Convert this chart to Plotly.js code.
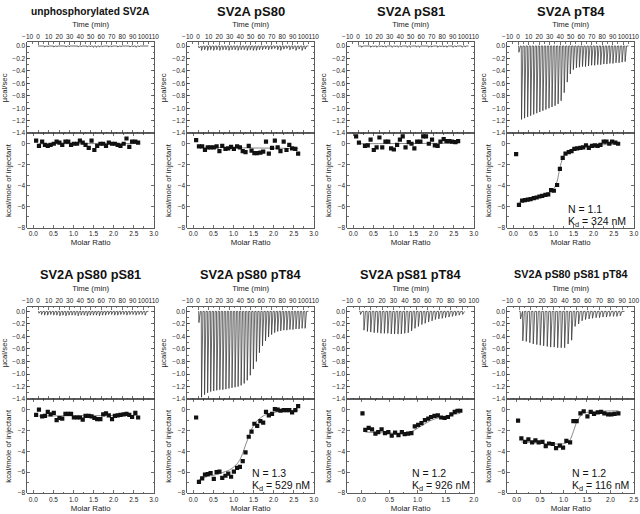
<!DOCTYPE html>
<html>
<head>
<meta charset="utf-8">
<script src="https://cdn.plot.ly/plotly-3.0.1.min.js"></script>
<style>html,body{margin:0;padding:0;background:#fff;}#chart{width:640px;height:514px;}</style>
</head>
<body>
<div id="chart"></div>
<script>
// ---------- data ----------
const panelTitles = ["unphosphorylated SV2A", "SV2A pS80", "SV2A pS81", "SV2A pT84",
                     "SV2A pS80 pS81", "SV2A pS80 pT84", "SV2A pS81 pT84", "SV2A pS80 pS81 pT84"];

// injection times (min)
const timeA = [0.5, 3.0, 5.9, 8.8, 11.7, 14.6, 17.5, 20.4, 23.3, 26.2, 29.1, 32.0, 34.9, 37.8, 40.7, 43.6, 46.5, 49.4,
               52.3, 55.2, 58.1, 61.0, 63.9, 66.8, 69.7, 72.6, 75.5, 78.4, 81.3, 84.2, 87.1, 90.0, 92.9, 95.8, 98.7, 101.6];
const time7 = [1.0, 4.0, 7.0, 9.9, 12.9, 15.9, 18.8, 21.8, 24.8, 27.8, 30.7, 33.7, 36.6, 39.6, 42.6, 45.6, 48.5, 51.5,
               54.5, 57.4, 60.4, 63.4, 66.3, 69.3, 72.3, 75.2, 78.2, 81.2, 84.1, 87.1, 90.1];
const time8 = [1.0, 3.0, 6.0, 9.1, 12.1, 15.2, 18.2, 21.2, 24.3, 27.3, 30.4, 33.4, 36.5, 39.5, 42.5, 45.6, 48.6, 51.7,
               54.7, 57.7, 60.8, 63.8, 66.9, 69.9, 72.9, 76.0, 79.0, 82.1, 85.1, 88.1];

// molar ratios
const ratioA = [0.07, 0.14, 0.22, 0.29, 0.36, 0.43, 0.51, 0.58, 0.65, 0.72, 0.80, 0.87, 0.94, 1.01, 1.09, 1.16, 1.23, 1.30,
                1.38, 1.45, 1.52, 1.59, 1.67, 1.74, 1.81, 1.88, 1.96, 2.03, 2.10, 2.17, 2.25, 2.32, 2.39, 2.46, 2.54, 2.61];
const ratio7 = [0.02, 0.07, 0.13, 0.19, 0.25, 0.30, 0.36, 0.42, 0.48, 0.54, 0.60, 0.66, 0.72, 0.77, 0.83, 0.89, 0.95, 1.01,
                1.07, 1.13, 1.19, 1.24, 1.30, 1.36, 1.42, 1.48, 1.54, 1.60, 1.66, 1.71, 1.76];
const ratio8 = [0.03, 0.10, 0.18, 0.25, 0.33, 0.40, 0.47, 0.55, 0.62, 0.69, 0.77, 0.84, 0.92, 0.99, 1.06, 1.14, 1.21, 1.28,
                1.36, 1.43, 1.51, 1.58, 1.65, 1.73, 1.80, 1.87, 1.95, 2.02, 2.09, 2.17];

// raw thermogram peak heights (µcal/sec)
const peaksUnphos = [-0.01, -0.01, -0.015, -0.01, -0.01, -0.015, -0.01, -0.01, -0.01, -0.015, -0.01, -0.01, -0.01, -0.015, -0.01, -0.01, -0.015, -0.01,
                     -0.02, -0.02, -0.015, -0.01, -0.01, -0.015, -0.01, -0.01, -0.015, -0.01, -0.01, -0.01, -0.015, -0.01, -0.02, -0.01, -0.01, -0.01];
const peaksPS80 = [-0.03, -0.07, -0.06, -0.07, -0.06, -0.07, -0.06, -0.07, -0.06, -0.06, -0.07, -0.06, -0.06, -0.07, -0.06, -0.06, -0.07, -0.06,
                   -0.07, -0.07, -0.06, -0.06, -0.05, -0.06, -0.05, -0.04, -0.06, -0.07, -0.05, -0.04, -0.06, -0.05, -0.07, -0.05, -0.07, -0.05];
const peaksPS81 = [-0.01, -0.02, 0.0, -0.01, -0.02, -0.01, -0.02, -0.01, -0.015, -0.02, -0.01, -0.02, -0.01, -0.02, -0.015, -0.01, -0.02, -0.02,
                   -0.01, -0.015, -0.02, -0.01, -0.01, -0.02, -0.015, -0.01, -0.02, -0.01, -0.015, -0.02, -0.01, -0.02, -0.015, -0.01, -0.02, -0.015];
const peaksPT84 = [-0.1, -1.18, -1.16, -1.14, -1.12, -1.1, -1.08, -1.06, -1.04, -1.02, -1.0, -0.98, -0.96, -0.93, -0.88, -0.75, -0.58, -0.45,
                   -0.38, -0.35, -0.34, -0.33, -0.33, -0.32, -0.31, -0.31, -0.3, -0.3, -0.29, -0.29, -0.28, -0.28, -0.27, -0.27, -0.26, -0.25];
const peaksPS80PS81 = [-0.03, -0.05, -0.06, -0.06, -0.05, -0.06, -0.06, -0.07, -0.06, -0.07, -0.06, -0.06, -0.06, -0.07, -0.06, -0.06, -0.07, -0.06,
                       -0.06, -0.06, -0.07, -0.06, -0.06, -0.05, -0.05, -0.06, -0.06, -0.05, -0.05, -0.06, -0.05, -0.05, -0.06, -0.05, -0.05, -0.06];
const peaksPS80PT84 = [-0.18, -1.37, -1.33, -1.3, -1.28, -1.27, -1.26, -1.25, -1.25, -1.24, -1.23, -1.22, -1.21, -1.2, -1.18, -1.15, -1.1, -1.02,
                       -0.92, -0.8, -0.66, -0.55, -0.47, -0.41, -0.37, -0.34, -0.32, -0.31, -0.3, -0.3, -0.29, -0.29, -0.28, -0.28, -0.27, -0.27];
const peaksPS81PT84 = [-0.05, -0.3, -0.32, -0.33, -0.34, -0.34, -0.35, -0.35, -0.35, -0.36, -0.36, -0.36, -0.36, -0.35, -0.34, -0.31, -0.27, -0.24,
                       -0.21, -0.19, -0.17, -0.15, -0.13, -0.12, -0.11, -0.1, -0.09, -0.08, -0.07, -0.06, -0.05];
const peaksPS80PS81PT84 = [-0.12, -0.47, -0.48, -0.5, -0.52, -0.53, -0.54, -0.55, -0.56, -0.57, -0.57, -0.58, -0.58, -0.58, -0.52, -0.46, -0.24, -0.2,
                           -0.15, -0.13, -0.12, -0.11, -0.1, -0.1, -0.09, -0.09, -0.08, -0.08, -0.08, -0.07];

// integrated heats (kcal/mole of injectant)
const heatUnphos = [0.3, -0.2, 0.2, -0.1, -0.2, -0.1, 0.0, 0.2, 0.1, -0.1, 0.2, 0.2, -0.1, 0.0, 0.0, 0.3, 0.1, -0.1,
                    -0.4, 0.3, -0.6, -0.2, 0.0, 0.0, -0.2, 0.1, 0.0, 0.0, -0.1, -0.2, 0.0, 0.5, -0.3, 0.2, 0.2, 0.1];
const heatPS80 = [0.35, -0.25, -0.25, -0.6, -0.35, -0.35, -0.35, -0.25, -0.7, -0.2, -0.5, -0.45, -0.3, -0.5, -0.25, -0.35, -0.7, -0.8,
                  -0.2, -0.65, -0.9, -0.9, -0.85, -0.75, 0.2, -0.95, -0.4, 0.3, -0.35, -0.7, 0.2, -0.6, -0.1, -0.45, -0.5, -0.95];
const heatPS81 = [0.7, 0.1, 1.2, -0.2, -0.15, 0.4, -0.6, -0.35, 0.6, -0.35, 0.2, 0.2, -0.45, -0.55, -0.1, 0.4, 0.7, -0.35,
                  0.15, 0.0, -0.45, 0.2, 0.2, 0.7, 0.7, 0.0, 0.4, -0.15, -0.2, 0.2, 0.45, 0.25, 0.25, 0.2, 0.15, 0.25];
const heatPT84 = [-1.0, -5.85, -5.45, -5.4, -5.35, -5.3, -5.2, -5.15, -5.05, -5.0, -4.9, -4.85, -4.45, -4.5, -3.95, -2.4, -1.35, -0.95,
                  -0.8, -0.7, -0.5, -0.45, -0.4, -0.35, -0.15, -0.4, -0.2, -0.15, -0.2, -0.1, 0.2, 0.2, 0.0, 0.2, 0.1, 0.0];
const heatPS80PS81 = [-0.5, 0.0, -0.65, -0.6, -0.2, -0.45, -0.3, -1.0, -0.8, -0.85, -0.4, -0.4, -0.4, -0.75, -0.75, -0.75, -0.95, -0.6,
                      -0.6, -0.65, -0.8, -0.9, -0.9, -0.45, -0.35, -0.55, -0.9, -0.6, -0.55, -0.5, -0.45, -0.4, -0.5, -0.7, -0.3, -0.75];
const heatPS80PT84 = [-0.75, -6.95, -6.6, -6.25, -6.2, -6.1, -6.65, -6.0, -5.95, -6.55, -6.35, -6.15, -6.45, -5.95, -5.6, -5.5, -4.95, -4.1,
                      -2.6, -2.1, -1.35, -1.55, -1.1, -1.25, -0.2, -0.55, -0.4, 0.05, 0.0, -0.1, -0.05, -0.05, -0.05, -0.25, -0.05, 0.35];
const heatPS81PT84 = [-0.35, -1.95, -1.75, -1.9, -2.3, -2.15, -1.9, -2.25, -2.15, -2.5, -2.2, -2.45, -2.15, -2.35, -2.3, -2.25, -1.6, -1.45,
                      -1.3, -1.0, -0.85, -0.7, -0.6, -0.55, -0.75, -0.8, -0.7, -0.45, -0.2, -0.1, -0.1];
const heatPS80PS81PT84 = [-1.05, -2.75, -3.1, -2.85, -3.15, -2.95, -3.15, -3.1, -3.5, -3.25, -3.3, -3.7, -3.45, -3.65, -3.0, -3.15, -1.1, -1.1,
                          -0.35, -0.15, -0.65, -0.2, -0.4, -0.25, -0.2, -0.35, -0.45, -0.45, -0.4, -0.35];

// fitted curves
const fitXUnphos = [0.14, 2.61], fitYUnphos = [0.0, 0.02];
const fitXPS80 = [0.14, 2.61], fitYPS80 = [-0.35, -0.45];
const fitXPS81 = [0.14, 2.61], fitYPS81 = [0.0, 0.05];
const fitXPS80PS81 = [0.14, 2.61], fitYPS80PS81 = [-0.6, -0.55];
const fitYPT84 = [-5.6, -5.5, -5.45, -5.38, -5.3, -5.22, -5.14, -5.05, -4.95, -4.85, -4.7, -4.5, -4.3, -3.6, -2.3, -1.35, -0.9, -0.68,
                  -0.54, -0.44, -0.36, -0.31, -0.27, -0.23, -0.2, -0.17, -0.15, -0.13, -0.11, -0.09, -0.08, -0.06, -0.05, -0.04, -0.03];
const fitYPS80PT84 = [-6.75, -6.6, -6.5, -6.4, -6.35, -6.3, -6.22, -6.15, -6.05, -5.95, -5.85, -5.7, -5.5, -5.2, -4.8, -4.2, -3.4, -2.6,
                      -1.9, -1.4, -1.05, -0.8, -0.6, -0.47, -0.37, -0.3, -0.24, -0.2, -0.16, -0.13, -0.11, -0.09, -0.07, -0.06, -0.05];
const fitYPS81PT84 = [-2.15, -2.17, -2.18, -2.2, -2.21, -2.22, -2.23, -2.24, -2.25, -2.25, -2.25, -2.24, -2.22, -2.18, -2.1, -1.95, -1.75, -1.55,
                      -1.35, -1.17, -1.02, -0.9, -0.8, -0.71, -0.63, -0.56, -0.5, -0.45, -0.4, -0.36];
const fitYPS80PS81PT84 = [-3.1, -3.13, -3.15, -3.18, -3.2, -3.22, -3.24, -3.26, -3.28, -3.29, -3.3, -3.3, -3.28, -3.2, -2.9, -2.1, -1.2, -0.6,
                          -0.35, -0.25, -0.2, -0.17, -0.15, -0.14, -0.13, -0.12, -0.12, -0.11, -0.11];

const fitLabelsN = ["N = 1.1", "N = 1.3", "N = 1.2", "N = 1.2"];
const fitLabelsKd = ["K<sub>d</sub> = 324 nM", "K<sub>d</sub> = 529 nM", "K<sub>d</sub> = 926 nM", "K<sub>d</sub> = 116 nM"];

const rawTicks = [0, -0.2, -0.4, -0.6, -0.8, -1.0, -1.2, -1.4];

// ---------- panels ----------
const panels = [
  {title: panelTitles[0], time: timeA, peaks: peaksUnphos, ratio: ratioA, heat: heatUnphos, fitX: fitXUnphos, fitY: fitYUnphos, tEnd: 105, tRange: [-10.3, 110.3], rRange: [-0.15, 3.005], tsize: 10.2},
  {title: panelTitles[1], time: timeA, peaks: peaksPS80, ratio: ratioA, heat: heatPS80, fitX: fitXPS80, fitY: fitYPS80, tEnd: 105, tRange: [-10.3, 110.3], rRange: [-0.15, 3.005], tsize: 13},
  {title: panelTitles[2], time: timeA, peaks: peaksPS81, ratio: ratioA, heat: heatPS81, fitX: fitXPS81, fitY: fitYPS81, tEnd: 105, tRange: [-10.3, 110.3], rRange: [-0.15, 3.005], tsize: 13},
  {title: panelTitles[3], time: timeA, peaks: peaksPT84, ratio: ratioA, heat: heatPT84, fitX: ratioA.slice(1), fitY: fitYPT84, tEnd: 105, tRange: [-10.3, 110.3], rRange: [-0.15, 3.005], ann: 0, tsize: 13},
  {title: panelTitles[4], time: timeA, peaks: peaksPS80PS81, ratio: ratioA, heat: heatPS80PS81, fitX: fitXPS80PS81, fitY: fitYPS80PS81, tEnd: 105, tRange: [-10.3, 110.3], rRange: [-0.15, 3.005], tsize: 12.8},
  {title: panelTitles[5], time: timeA, peaks: peaksPS80PT84, ratio: ratioA, heat: heatPS80PT84, fitX: ratioA.slice(1), fitY: fitYPS80PT84, tEnd: 105, tRange: [-10.3, 110.3], rRange: [-0.15, 3.005], ann: 1, tsize: 12.8},
  {title: panelTitles[6], time: time7, peaks: peaksPS81PT84, ratio: ratio7, heat: heatPS81PT84, fitX: ratio7.slice(1), fitY: fitYPS81PT84, tEnd: 92, tRange: [-10.3, 100.3], rRange: [-0.25, 2.003], ann: 2, tsize: 12.8},
  {title: panelTitles[7], time: time8, peaks: peaksPS80PS81PT84, ratio: ratio8, heat: heatPS80PS81PT84, fitX: ratio8.slice(1), fitY: fitYPS80PS81PT84, tEnd: 92, tRange: [-10.3, 100.3], rRange: [-0.2, 2.503], ann: 3, tsize: 10.8}
];

const W = 640, H = 514;
const colLeft = [27.3, 187.3, 347.3, 507.3], colW = 126.7;
const rows = [ {rawTop: 42.3, mid: 133.3, bot: 227.7, titleY: 11.5, nY: 208.5, kY: 221.5, nX: 566},
               {rawTop: 306.7, mid: 399.3, bot: 493.3, titleY: 274, nY: 472.5, kY: 485.5, nX: 570} ];
const fx = p => p / W, fy = p => 1 - p / H;

const axisColor = '#333';
const tickFont = {family: 'Liberation Sans, Arial, sans-serif', size: 6.5, color: '#222'};
const titleFont = {family: 'Liberation Sans, Arial, sans-serif', size: 7.8, color: '#222'};

const data = [];
const layout = {
  width: W, height: H, margin: {l: 0, r: 0, t: 0, b: 0},
  paper_bgcolor: '#fff', plot_bgcolor: '#fff', showlegend: false,
  font: {family: 'Liberation Sans, Arial, sans-serif', color: '#222'},
  annotations: []
};

function baseAxis() {
  return {showline: true, linecolor: axisColor, linewidth: 0.8, mirror: 'allticks', ticks: 'inside', ticklen: 3,
          tickcolor: axisColor, tickwidth: 0.7, showgrid: false, zeroline: false, tickfont: tickFont, tickangle: 0,
          fixedrange: true};
}

panels.forEach((p, i) => {
  const col = i % 4, row = rows[Math.floor(i / 4)];
  const kr = 2 * i + 1, kh = 2 * i + 2;
  const xd = [fx(colLeft[col]), fx(colLeft[col] + colW)];

  // raw thermogram path built from the injection list
  const rx = [0], ry = [0];
  p.time.forEach((t, j) => { rx.push(t, t + 0.25, t + 1.6); ry.push(0, p.peaks[j], 0); });
  rx.push(p.tEnd); ry.push(0);
  data.push({type: 'scatter', mode: 'lines', x: rx, y: ry, xaxis: 'x' + kr, yaxis: 'y' + kr,
             line: {color: '#2a2a2a', width: 0.7}, hoverinfo: 'skip'});

  // fit and integrated heats
  data.push({type: 'scatter', mode: 'lines', x: p.fitX, y: p.fitY, xaxis: 'x' + kh, yaxis: 'y' + kh,
             line: {color: '#555', width: 0.7, shape: 'spline', smoothing: 0.6}, hoverinfo: 'skip'});
  data.push({type: 'scatter', mode: 'markers', x: p.ratio, y: p.heat, xaxis: 'x' + kh, yaxis: 'y' + kh,
             marker: {symbol: 'square', size: 4.2, color: '#111'}, hoverinfo: 'skip'});

  const sr = kr === 1 ? '' : kr;
  layout['xaxis' + sr] = Object.assign(baseAxis(), {
    domain: xd, anchor: 'y' + kr, side: 'top', range: p.tRange, tick0: 0, dtick: 10,
    minor: {dtick: 5, ticks: 'inside', ticklen: 1.5, tickcolor: axisColor},
    title: {text: 'Time (min)', font: titleFont, standoff: 4}
  });
  layout['yaxis' + sr] = Object.assign(baseAxis(), {
    domain: [fy(row.mid), fy(row.rawTop)], anchor: 'x' + kr, range: [-1.403, row === rows[0] ? 0.06 : 0.075],
    tickvals: rawTicks, ticktext: rawTicks.map(v => v.toFixed(1).replace('-', '\u2212')),
    minor: {dtick: 0.1, ticks: 'inside', ticklen: 1.5, tickcolor: axisColor},
    title: {text: 'µcal/sec', font: titleFont, standoff: 4}
  });
  layout['xaxis' + kh] = Object.assign(baseAxis(), {
    domain: xd, anchor: 'y' + kh, range: p.rRange, tick0: 0, dtick: 0.5, tickformat: '.1f',
    minor: {dtick: 0.25, ticks: 'inside', ticklen: 1.5, tickcolor: axisColor},
    title: {text: 'Molar Ratio', font: titleFont, standoff: 3}
  });
  layout['yaxis' + kh] = Object.assign(baseAxis(), {
    domain: [fy(row.bot), fy(row.mid)], anchor: 'x' + kh, range: [-8.04, 1.0], tick0: 0, dtick: 2,
    minor: {dtick: 1, ticks: 'inside', ticklen: 1.5, tickcolor: axisColor},
    title: {text: 'kcal/mole of injectant', font: titleFont, standoff: 4}
  });

  layout.annotations.push({
    xref: 'paper', yref: 'paper', x: fx(colLeft[col] + colW / 2), y: fy(row.titleY), xanchor: 'center', yanchor: 'middle',
    text: '<b>' + p.title + '</b>', showarrow: false,
    font: {family: 'Liberation Sans, Arial', size: p.tsize, color: '#111'}
  });

  if (p.ann !== undefined) {
    const ax = fx(row.nX + 160 * (col - 3));
    layout.annotations.push({xref: 'paper', yref: 'paper', x: ax, y: fy(row.nY), xanchor: 'left', yanchor: 'middle',
      text: fitLabelsN[p.ann], showarrow: false, font: {size: 10.5, color: '#111'}});
    layout.annotations.push({xref: 'paper', yref: 'paper', x: ax, y: fy(row.kY), xanchor: 'left', yanchor: 'middle',
      text: fitLabelsKd[p.ann], showarrow: false, font: {size: 10.5, color: '#111'}});
  }
});

Plotly.newPlot('chart', data, layout, {staticPlot: true, displayModeBar: false});
</script>
</body>
</html>
